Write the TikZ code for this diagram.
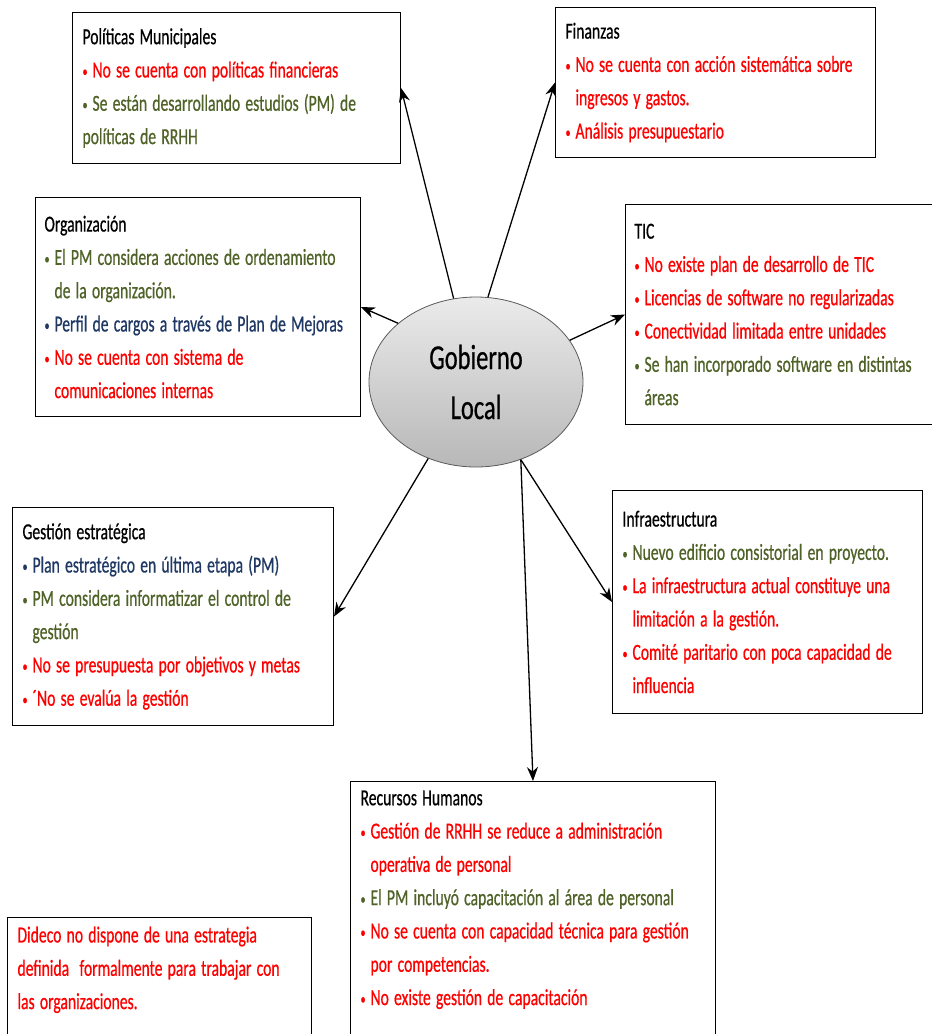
\documentclass[tikz,border=0pt]{standalone}
\usepackage{fontspec}
\setmainfont[FakeStretch=0.68, FakeBold=0.6]{Carlito}
\newfontfamily\hubfont[FakeStretch=0.7, FakeBold=0.6]{Carlito}
\usetikzlibrary{shapes.geometric,arrows.meta}

\definecolor{pmred}{RGB}{255,0,0}
\definecolor{pmgreen}{RGB}{79,98,40}
\definecolor{pmblue}{RGB}{31,56,100}
\newcommand{\tight}{\spaceskip=5.2pt plus 0pt minus 0pt\relax\xspaceskip=5.2pt\relax}
\newcommand{\bul}{\makebox[10pt][l]{\raisebox{1pt}{\scalebox{0.65}{\textbullet}}}}
% one bullet line, its continuation line, and a plain line
\newcommand{\itm}[2]{\mbox{\tight\textcolor{#1}{\bul #2}}}
\newcommand{\cnt}[2]{\mbox{\tight\textcolor{#1}{\hspace*{10pt}#2}}}
\newcommand{\lin}[1]{\mbox{\tight #1}}

\begin{document}
\begin{tikzpicture}[
      x=1pt, y=-1pt,
      box/.style={
        draw=black,
        line width=1pt,
        anchor=north west,
        align=left,
        inner xsep=10pt,
        inner ysep=9pt,
        font=\fontsize{23}{33.3}\selectfont
      },
      hub/.style={
        ellipse,
        draw=black!65,
        line width=0.8pt,
        top color=black!8,
        bottom color=black!28,
        minimum width=214pt,
        minimum height=170pt,
        inner sep=0pt,
        align=center,
        font=\hubfont\fontsize{35}{50}\selectfont
      },
      arr/.style={-{Stealth[length=14pt,width=11pt]}, line width=1.3pt}
    ]
    \useasboundingbox (0,0) rectangle (932,1034);

    \node[hub] (hub) at (476,382) {Gobierno\\Local};

    \node[box, text width=308pt, minimum height=151pt] (politicas) at (72,12)
    {\lin{Políticas Municipales}\\
    \itm{pmred}{No se cuenta con políticas financieras}\\
    \itm{pmgreen}{Se están desarrollando estudios (PM) de}\\
    \lin{\textcolor{pmgreen}{políticas de RRHH}}};

    \node[box, text width=300pt, minimum height=150pt] (finanzas) at (555,7)
    {\lin{Finanzas}\\
    \itm{pmred}{No se cuenta con acción sistemática sobre}\\
    \cnt{pmred}{ingresos y gastos.}\\
    \itm{pmred}{Análisis presupuestario}};

    \node[box, inner xsep=9pt, text width=307pt, minimum height=219pt] (organizacion) at (35,197)
    {\lin{Organización}\\
    \itm{pmgreen}{El PM considera acciones de ordenamiento}\\
    \cnt{pmgreen}{de la organización.}\\
    \itm{pmblue}{Perfil de cargos a través de Plan de Mejoras}\\
    \itm{pmred}{No se cuenta con sistema de}\\
    \cnt{pmred}{comunicaciones internas}};

    \node[box, inner xsep=9pt, text width=302pt, minimum height=220pt] (tic) at (625,204)
    {\lin{TIC}\\
    \itm{pmred}{No existe plan de desarrollo de TIC}\\
    \itm{pmred}{Licencias de software no regularizadas}\\
    \itm{pmred}{Conectividad limitada entre unidades}\\
    \itm{pmgreen}{Se han incorporado software en distintas}\\
    \cnt{pmgreen}{áreas}};

    \node[box, text width=301pt, minimum height=218pt] (gestion) at (12,507)
    {\lin{Gestión estratégica}\\
    \itm{pmblue}{Plan estratégico en última etapa (PM)}\\
    \itm{pmgreen}{PM considera informatizar el control de}\\
    \cnt{pmgreen}{gestión}\\
    \itm{pmred}{No se presupuesta por objetivos y metas}\\
    \itm{pmred}{´No se evalúa la gestión}};

    \node[box, text width=290pt, minimum height=223pt] (infra) at (612,490)
    {\lin{Infraestructura}\\
    \itm{pmgreen}{Nuevo edificio consistorial en proyecto.}\\
    \itm{pmred}{La infraestructura actual constituye una}\\
    \cnt{pmred}{limitación a la gestión.}\\
    \itm{pmred}{Comité paritario con poca capacidad de}\\
    \cnt{pmred}{influencia}};

    \node[box, text width=345pt] (recursos) at (350,781)
    {\lin{Recursos Humanos}\\
    \itm{pmred}{Gestión de RRHH se reduce a administración}\\
    \cnt{pmred}{operativa de personal}\\
    \itm{pmgreen}{El PM incluyó capacitación al área de personal}\\
    \itm{pmred}{No se cuenta con capacidad técnica para gestión}\\
    \cnt{pmred}{por competencias.}\\
    \itm{pmred}{No existe gestión de capacitación}\\
    \mbox{}\\ \mbox{}};

    \node[box, text width=284pt, text=pmred] (dideco) at (7,917)
    {\lin{Dideco no dispone de una estrategia}\\
    \lin{definida\ \ formalmente para trabajar con}\\
    \lin{las organizaciones.}\\
    \mbox{}\\ \mbox{}};

    \draw[arr] (hub.105) -- (politicas.east);
    \draw[arr] (hub.82) -- (finanzas.west);
    \draw[arr] (hub.143) -- (organizacion.east);
    \draw[arr] (hub.24) -- (tic.west);
    \draw[arr] (hub.238) -- (gestion.east);
    \draw[arr] (hub.300) -- (infra.west);
    \draw[arr] (hub.300) -- (recursos.north);
    \end{tikzpicture}
\end{document}
